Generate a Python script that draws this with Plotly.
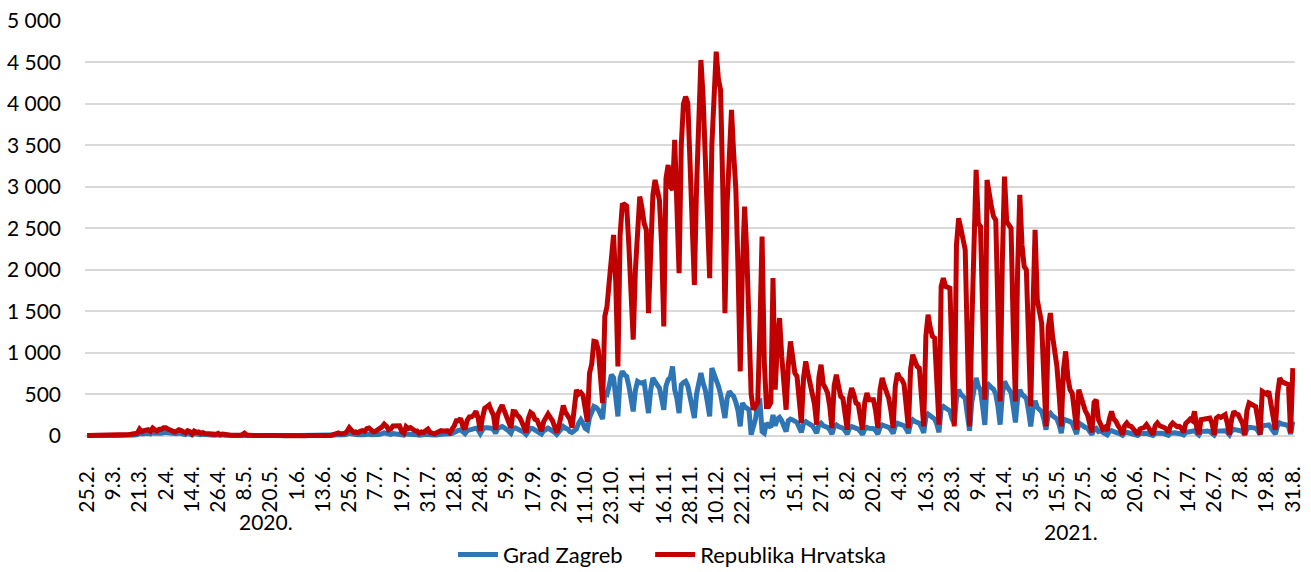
import pandas as pd
import plotly.graph_objects as go

# ---------------- data (daily new cases) ----------------
# Republika Hrvatska
hr_2020_02 = [1, 1, 2, 1]
hr_2020_03 = [2, 0, 2, 1, 1, 1, 1, 0, 3, 3, 6, 5, 7, 11, 10, 15, 17, 24, 23, 29, 78, 48, 61, 67, 72, 53, 91, 71, 57, 77, 77]
hr_2020_04 = [96, 96, 79, 68, 70, 44, 55, 71, 61, 54, 33, 60, 49, 21, 56, 40, 45, 29, 36, 26, 24, 16, 21, 9, 16, 28, 10, 20, 14, 8]
hr_2020_05 = [10, 5, 6, 1, 7, 5, 13, 30, 8, 2, 4, 2, 3, 5, 2, 1, 0, 2, 1, 1, 0, 1, 1, 0, 2, 0, 1, 0, 0, 0, 0]
hr_2020_06 = [0, 0, 0, 1, 0, 1, 0, 0, 0, 1, 2, 1, 1, 0, 2, 3, 6, 12, 17, 34, 21, 22, 31, 52, 96, 67, 40, 45, 35, 52]
hr_2020_07 = [60, 52, 85, 93, 63, 46, 52, 72, 78, 107, 140, 116, 70, 81, 116, 115, 116, 120, 49, 30, 109, 85, 97, 75, 60, 57, 29, 45, 38, 60, 80]
hr_2020_08 = [40, 27, 20, 35, 54, 60, 56, 60, 59, 36, 73, 115, 180, 180, 208, 113, 79, 185, 226, 228, 248, 296, 212, 60, 218, 330, 350, 370, 303, 248, 70]
hr_2020_09 = [256, 318, 369, 300, 223, 155, 95, 291, 287, 244, 220, 165, 104, 40, 208, 280, 260, 197, 187, 95, 54, 170, 219, 261, 220, 183, 113, 40, 120, 230]
hr_2020_10 = [363, 280, 250, 200, 96, 360, 554, 500, 520, 488, 300, 170, 755, 860, 1137, 1131, 1036, 720, 393, 1438, 1558, 1850, 2200, 2420, 1850, 835, 2421, 2780, 2790, 2770, 2300]
hr_2020_11 = [1700, 1157, 2000, 2600, 2883, 2750, 2560, 2480, 1478, 2200, 2900, 3084, 2950, 2843, 2300, 1317, 3100, 3265, 3000, 2964, 3566, 2900, 1960, 3500, 4000, 4088, 4008, 3300, 2500, 1819]
hr_2020_12 = [3000, 4000, 4530, 4088, 3400, 2600, 1900, 3500, 4200, 4630, 4300, 4168, 3000, 1478, 2800, 3500, 3928, 3400, 2964, 2000, 775, 2000, 2763, 2200, 1400, 500, 313, 350, 400, 1300, 2400]
hr_2021_01 = [900, 353, 353, 400, 1900, 554, 1100, 1418, 956, 650, 313, 850, 1137, 950, 755, 715, 450, 153, 700, 896, 750, 635, 514, 380, 133, 700, 855, 620, 574, 514, 350]
hr_2021_02 = [92, 600, 735, 600, 474, 450, 300, 72, 450, 574, 500, 394, 380, 250, 72, 400, 514, 434, 434, 434, 300, 92, 550, 695, 600, 514, 450, 300]
hr_2021_03 = [92, 600, 755, 700, 675, 620, 400, 92, 800, 976, 900, 835, 815, 500, 112, 1200, 1458, 1300, 1197, 1177, 700, 133, 1800, 1900, 1800, 1790, 1779, 900, 112, 2300, 2622]
hr_2021_04 = [2500, 2381, 2241, 1100, 112, 1300, 2300, 3205, 2562, 2522, 1500, 434, 3084, 2900, 2763, 2642, 2600, 1500, 413, 2100, 3124, 2582, 2542, 2500, 1300, 413, 2000, 2904, 2300, 2040]
hr_2021_05 = [2000, 1000, 353, 1500, 2482, 1638, 1500, 1357, 700, 112, 1300, 1478, 1200, 1036, 835, 500, 112, 800, 1016, 700, 554, 514, 300, 72, 554, 450, 353, 300, 250, 150, 40]
hr_2021_06 = [400, 434, 193, 150, 80, 100, 60, 200, 293, 200, 173, 120, 80, 12, 120, 153, 120, 112, 90, 50, 12, 80, 92, 100, 133, 100, 60, 12, 120, 153]
hr_2021_07 = [120, 112, 100, 80, 40, 120, 153, 130, 110, 112, 90, 40, 150, 173, 200, 180, 293, 100, 20, 193, 200, 193, 200, 213, 150, 10, 213, 233, 220, 233, 253]
hr_2021_08 = [150, 12, 200, 293, 260, 253, 200, 150, 12, 300, 394, 380, 373, 350, 200, 12, 534, 515, 500, 534, 400, 200, 72, 500, 695, 650, 634, 614, 614, 30, 815]

# Grad Zagreb
zg_2020_02 = [1, 0, 1, 0]
zg_2020_03 = [0, 0, 1, 0, 0, 0, 0, 0, 1, 1, 3, 2, 3, 5, 4, 6, 7, 10, 9, 12, 30, 20, 25, 28, 30, 20, 38, 30, 24, 32, 30]
zg_2020_04 = [40, 42, 35, 30, 32, 18, 25, 33, 28, 24, 14, 28, 22, 9, 26, 18, 20, 12, 16, 11, 10, 7, 9, 4, 7, 12, 4, 9, 6, 3]
zg_2020_05 = [4, 2, 3, 0, 3, 2, 6, 15, 4, 1, 2, 1, 1, 2, 1, 0, 0, 1, 0, 0, 0, 0, 1, 0, 1, 0, 0, 0, 0, 0, 0]
zg_2020_06 = [0, 0, 0, 0, 0, 0, 0, 0, 0, 0, 1, 0, 0, 0, 1, 1, 2, 3, 5, 10, 6, 8, 10, 18, 30, 22, 12, 15, 12, 18]
zg_2020_07 = [12, 10, 18, 20, 12, 8, 10, 15, 16, 25, 35, 28, 14, 16, 25, 24, 24, 25, 10, 6, 22, 18, 20, 15, 12, 12, 6, 10, 8, 12, 16]
zg_2020_08 = [10, 6, 5, 8, 14, 15, 14, 16, 16, 10, 25, 40, 60, 65, 70, 40, 25, 60, 70, 75, 80, 90, 70, 25, 70, 95, 95, 100, 90, 75, 30]
zg_2020_09 = [90, 100, 110, 95, 80, 55, 30, 90, 95, 85, 75, 60, 40, 15, 70, 90, 85, 70, 65, 35, 20, 60, 75, 90, 75, 65, 40, 15, 45, 80]
zg_2020_10 = [110, 90, 80, 50, 40, 60, 80, 150, 193, 150, 90, 72, 220, 280, 353, 340, 313, 260, 200, 514, 500, 600, 735, 700, 500, 233, 700, 775, 735, 715, 600]
zg_2020_11 = [450, 293, 550, 655, 640, 634, 645, 500, 273, 550, 695, 650, 600, 574, 450, 313, 600, 675, 700, 835, 554, 450, 273, 614, 640, 655, 600, 450, 300, 213]
zg_2020_12 = [500, 650, 755, 634, 550, 400, 233, 815, 750, 695, 600, 500, 350, 213, 450, 534, 500, 474, 400, 300, 112, 393, 350, 330, 313, 12, 100, 200, 400, 413, 50]
zg_2021_01 = [30, 150, 130, 100, 250, 120, 200, 220, 180, 120, 50, 180, 200, 190, 170, 160, 100, 40, 150, 170, 150, 140, 120, 80, 30, 130, 150, 120, 110, 100, 70]
zg_2021_02 = [20, 110, 130, 110, 100, 90, 60, 20, 90, 110, 100, 90, 80, 50, 15, 80, 100, 90, 90, 85, 60, 20, 100, 130, 120, 110, 100, 70]
zg_2021_03 = [25, 120, 150, 140, 130, 120, 80, 30, 150, 190, 170, 160, 150, 100, 35, 220, 260, 240, 220, 200, 140, 40, 330, 353, 333, 320, 300, 200, 150, 450, 554]
zg_2021_04 = [500, 480, 450, 250, 60, 400, 600, 695, 600, 550, 350, 130, 634, 600, 580, 560, 500, 350, 133, 500, 655, 600, 560, 520, 350, 160, 450, 554, 500, 474]
zg_2021_05 = [450, 300, 112, 330, 420, 340, 310, 290, 200, 72, 250, 273, 240, 220, 200, 130, 30, 200, 190, 190, 170, 150, 90, 20, 153, 130, 110, 100, 90, 60, 15]
zg_2021_06 = [80, 90, 50, 60, 40, 30, 10, 50, 60, 50, 45, 35, 20, 5, 35, 40, 35, 30, 25, 15, 3, 25, 30, 30, 30, 20, 15, 3, 30, 35]
zg_2021_07 = [30, 30, 25, 20, 5, 30, 40, 35, 30, 30, 20, 8, 40, 45, 50, 55, 60, 30, 8, 50, 55, 50, 55, 50, 35, 8, 55, 60, 55, 60, 60]
zg_2021_08 = [40, 10, 60, 75, 70, 70, 60, 45, 10, 80, 100, 100, 95, 90, 60, 15, 120, 130, 125, 130, 100, 60, 20, 120, 153, 140, 140, 130, 110, 20, 173]

hr_months = [hr_2020_02, hr_2020_03, hr_2020_04, hr_2020_05, hr_2020_06, hr_2020_07, hr_2020_08,
             hr_2020_09, hr_2020_10, hr_2020_11, hr_2020_12, hr_2021_01, hr_2021_02, hr_2021_03,
             hr_2021_04, hr_2021_05, hr_2021_06, hr_2021_07, hr_2021_08]
zg_months = [zg_2020_02, zg_2020_03, zg_2020_04, zg_2020_05, zg_2020_06, zg_2020_07, zg_2020_08,
             zg_2020_09, zg_2020_10, zg_2020_11, zg_2020_12, zg_2021_01, zg_2021_02, zg_2021_03,
             zg_2021_04, zg_2021_05, zg_2021_06, zg_2021_07, zg_2021_08]
month_lengths = [4, 31, 30, 31, 30, 31, 31, 30, 31, 30, 31, 31, 28, 31, 30, 31, 30, 31, 31]
for i, (a, b, n) in enumerate(zip(hr_months, zg_months, month_lengths)):
    assert len(a) == n, ("hr", i, len(a), n)
    assert len(b) == n, ("zg", i, len(b), n)

hrvatska = [v for m in hr_months for v in m]
zagreb = [v for m in zg_months for v in m]

# categories: reporting days (26.2.2020 not in the series)
dates = pd.date_range("2020-02-25", "2021-08-31", freq="D")
dates = dates[dates != pd.Timestamp("2020-02-26")]
categories = [d.strftime("%Y-%m-%d") for d in dates]
assert len(categories) == len(hrvatska) == len(zagreb)

tick_step = 12
tick_idx = list(range(0, len(categories), tick_step))
x_tickvals = [categories[i] for i in tick_idx]
x_ticktext = [f"{dates[i].day}.{dates[i].month}." for i in tick_idx]

y_tickvals = [0, 500, 1000, 1500, 2000, 2500, 3000, 3500, 4000, 4500, 5000]
y_ticktext = ["0", "500", "1 000", "1 500", "2 000", "2 500", "3 000", "3 500", "4 000", "4 500", "5 000"]

year_labels = ["2020.", "2021."]
series_names = ["Grad Zagreb", "Republika Hrvatska"]

# ---------------- figure ----------------
FONT = "Lato"
PAD = "\u00a0" * 4   # a little extra space after the first legend entry
fig = go.Figure()
fig.add_trace(go.Scatter(x=categories, y=zagreb, mode="lines", name=series_names[0] + PAD,
                         line=dict(color="#2E75B6", width=5)))
fig.add_trace(go.Scatter(x=categories, y=hrvatska, mode="lines", name=series_names[1],
                         line=dict(color="#C00000", width=5)))

fig.update_layout(
    width=1311, height=572,
    margin=dict(l=85, r=16, t=21, b=133, autoexpand=False),
    paper_bgcolor="white", plot_bgcolor="white",
    font=dict(family=FONT, size=21, color="#000000"),
    showlegend=True,
    legend=dict(orientation="h", x=0.4855, xanchor="center", y=-0.277, yanchor="middle",
                font=dict(family=FONT, size=22, color="#000000"), itemwidth=40,
                bgcolor="rgba(0,0,0,0)"),
    xaxis=dict(type="category", range=[-1, len(categories)], tickmode="array",
               tickvals=x_tickvals, ticktext=x_ticktext, tickangle=-90, automargin=False,
               showgrid=False, showline=False, zeroline=False, ticks="",
               tickfont=dict(family=FONT, size=21, color="#000000"), ticklabelstandoff=22),
    yaxis=dict(range=[-40, 5000], tickmode="array", tickvals=y_tickvals, ticktext=y_ticktext,
               automargin=False,
               showgrid=True, gridcolor="#D9D9D9", gridwidth=2, zeroline=False, showline=False,
               ticks="", tickfont=dict(family=FONT, size=21, color="#000000"), ticklabelstandoff=23),
    annotations=[
        dict(text=year_labels[0], xref="paper", yref="paper", x=0.1496, y=-0.198,
             showarrow=False, xanchor="center", yanchor="middle",
             font=dict(family=FONT, size=21, color="#000000")),
        dict(text=year_labels[1], xref="paper", yref="paper", x=0.815, y=-0.222,
             showarrow=False, xanchor="center", yanchor="middle",
             font=dict(family=FONT, size=21, color="#000000")),
    ],
)

fig.write_html("out.html", config={"displayModeBar": False},
               post_script="document.body.style.margin='0';document.body.style.padding='0';")
